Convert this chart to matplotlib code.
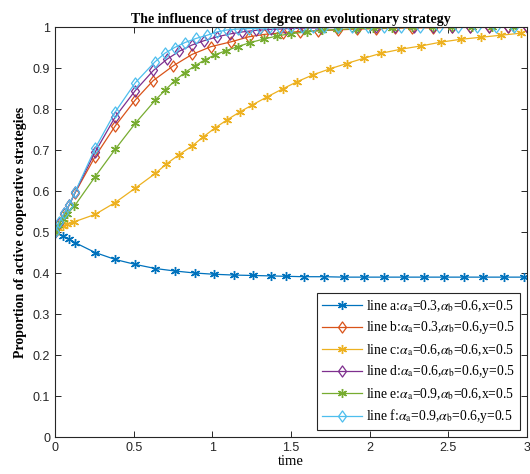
import matplotlib
matplotlib.use("Agg")
import matplotlib.pyplot as plt
from matplotlib.path import Path
from matplotlib.ticker import FuncFormatter

# values (ode solver output, uneven time steps)
t_a = [0, 0.049, 0.091, 0.128, 0.255, 0.383, 0.51, 0.638, 0.76, 0.89, 1.01, 1.14, 1.26, 1.37,
       1.47, 1.584, 1.707, 1.835, 1.962, 2.09, 2.217, 2.342, 2.47, 2.597, 2.723, 2.851, 2.978]
y_a = [0.5, 0.490, 0.482, 0.474, 0.450, 0.433, 0.421, 0.411, 0.405, 0.400, 0.397, 0.395, 0.394, 0.393,
       0.392, 0.391, 0.391, 0.390, 0.390, 0.390, 0.390, 0.390, 0.390, 0.390, 0.390, 0.390, 0.390]

t_b = [0, 0.028, 0.06, 0.09, 0.128, 0.255, 0.383, 0.51, 0.623, 0.75, 0.87, 0.99, 1.12, 1.23, 1.33,
       1.45, 1.56, 1.67, 1.80, 1.92, 2.04, 2.16, 2.27, 2.40, 2.52, 2.64, 2.76, 2.88, 3.0]
y_b = [0.5, 0.522, 0.545, 0.565, 0.596, 0.684, 0.759, 0.822, 0.869, 0.905, 0.933, 0.952, 0.964, 0.976, 0.982,
       0.986, 0.989, 0.991, 0.993, 0.995, 0.996, 0.997, 0.998, 0.998, 0.999, 0.999, 0.999, 1.0, 1.0]

t_c = [0, 0.021, 0.049, 0.075, 0.123, 0.255, 0.383, 0.51, 0.638, 0.708, 0.786, 0.872, 0.942, 1.014, 1.095,
       1.175, 1.254, 1.35, 1.446, 1.541, 1.637, 1.747, 1.854, 1.964, 2.073, 2.2, 2.328, 2.451, 2.578,
       2.706, 2.834, 2.961]
y_c = [0.5, 0.509, 0.515, 0.519, 0.525, 0.543, 0.572, 0.607, 0.643, 0.666, 0.688, 0.710, 0.732, 0.753, 0.774,
       0.793, 0.810, 0.830, 0.849, 0.867, 0.883, 0.898, 0.911, 0.924, 0.936, 0.946, 0.954, 0.963, 0.970,
       0.975, 0.980, 0.985]

t_d = [0, 0.028, 0.06, 0.09, 0.128, 0.255, 0.383, 0.51, 0.625, 0.71, 0.79, 0.87, 0.95, 1.03, 1.11, 1.19,
       1.28, 1.37, 1.47, 1.58, 1.69, 1.80, 1.92, 2.04, 2.16, 2.28, 2.40, 2.52, 2.64, 2.76, 2.88, 3.0]
y_d = [0.5, 0.523, 0.546, 0.566, 0.597, 0.695, 0.781, 0.845, 0.894, 0.921, 0.941, 0.956, 0.967, 0.976, 0.983, 0.988,
       0.992, 0.994, 0.996, 0.997, 0.998, 0.999, 0.999, 0.999, 1.0, 1.0, 1.0, 1.0, 1.0, 1.0, 1.0, 1.0]

t_e = [0, 0.021, 0.049, 0.075, 0.123, 0.255, 0.383, 0.51, 0.638, 0.70, 0.761, 0.825, 0.888, 0.952, 1.016, 1.084,
       1.16, 1.24, 1.33, 1.41, 1.50, 1.60, 1.70, 1.79, 1.91, 2.02, 2.14, 2.27, 2.40, 2.52, 2.65, 2.78, 2.91]
y_e = [0.5, 0.517, 0.531, 0.543, 0.563, 0.635, 0.702, 0.765, 0.822, 0.846, 0.869, 0.889, 0.905, 0.920, 0.932, 0.942,
       0.952, 0.962, 0.971, 0.978, 0.984, 0.988, 0.992, 0.994, 0.996, 0.997, 0.998, 0.999, 0.999, 1.0, 1.0, 1.0, 1.0]

t_f = [0, 0.028, 0.06, 0.09, 0.128, 0.255, 0.383, 0.51, 0.635, 0.698, 0.76, 0.825, 0.895, 0.967, 1.03, 1.095,
       1.16, 1.23, 1.30, 1.36, 1.43, 1.50, 1.57, 1.64, 1.71, 1.80, 1.89, 1.99, 2.09, 2.2, 2.32, 2.44, 2.56,
       2.68, 2.80, 2.92]
y_f = [0.5, 0.525, 0.547, 0.566, 0.598, 0.704, 0.793, 0.864, 0.915, 0.936, 0.950, 0.962, 0.972, 0.980, 0.988, 0.993,
       0.995, 0.996, 0.997, 0.998, 0.998, 0.999, 0.999, 0.999, 1.0, 1.0, 1.0, 1.0, 1.0, 1.0, 1.0, 1.0, 1.0,
       1.0, 1.0, 1.0]

labels = [
    r"line a:$\alpha_\mathrm{a}$=0.3,$\alpha_\mathrm{b}$=0.6,x=0.5",
    r"line b:$\alpha_\mathrm{a}$=0.3,$\alpha_\mathrm{b}$=0.6,y=0.5",
    r"line c:$\alpha_\mathrm{a}$=0.6,$\alpha_\mathrm{b}$=0.6,x=0.5",
    r"line d:$\alpha_\mathrm{a}$=0.6,$\alpha_\mathrm{b}$=0.6,y=0.5",
    r"line e:$\alpha_\mathrm{a}$=0.9,$\alpha_\mathrm{b}$=0.6,x=0.5",
    r"line f:$\alpha_\mathrm{a}$=0.9,$\alpha_\mathrm{b}$=0.6,y=0.5",
]

colors = ["#0072BD", "#D95319", "#EDB120", "#7E2F8E", "#77AC30", "#4DBEEE"]
markers = ["*", "D", "*", "D", "*", "D"]

# matlab diamond is a bit taller than wide
diamond = Path([(0, 1), (0.72, 0), (0, -1), (-0.72, 0), (0, 1)],
               [Path.MOVETO, Path.LINETO, Path.LINETO, Path.LINETO, Path.CLOSEPOLY])

plt.rcParams["mathtext.fontset"] = "stix"

fig = plt.figure(figsize=(5.3, 4.74), dpi=100)
ax = fig.add_axes([0.1038, 0.078, 0.8906, 0.865])

series = [(t_a, y_a), (t_b, y_b), (t_c, y_c), (t_d, y_d), (t_e, y_e), (t_f, y_f)]
for (t, y), lab, c, m in zip(series, labels, colors, markers):
    if m == "D":
        ax.plot(t, y, color=c, lw=0.9, marker=diamond, markersize=8, markerfacecolor="none",
                markeredgewidth=0.9, label=lab)
    else:
        # matlab style asterisk
        ax.plot(t, y, color=c, lw=0.9, marker=(6, 2, 0), markersize=6.5, markeredgewidth=1.0, label=lab)

ax.set_xlim(0, 3)
ax.set_ylim(0, 1)
ax.set_xticks([0, 0.5, 1, 1.5, 2, 2.5, 3])
ax.set_yticks([i / 10 for i in range(11)])
fmt = FuncFormatter(lambda v, p: "%g" % round(v, 2))
ax.xaxis.set_major_formatter(fmt)
ax.yaxis.set_major_formatter(fmt)
ax.tick_params(direction="in", top=True, right=True, labelsize=9, length=4, width=0.7,
               colors="#262626", labelcolor="#262626")
for lbl in ax.get_xticklabels() + ax.get_yticklabels():
    lbl.set_family("Liberation Sans")
for s in ax.spines.values():
    s.set_linewidth(0.8)
    s.set_color("#262626")

ax.set_xlabel("time", family="Liberation Serif", fontsize=10.5, labelpad=1)
ax.set_ylabel("Proportion of active cooperative strategies", family="Liberation Serif",
              fontsize=10, fontweight="bold", labelpad=4)
ax.set_title("The influence of trust degree on evolutionary strategy", family="Liberation Serif",
             fontsize=10, fontweight="bold", pad=3)

leg = ax.legend(loc="lower right", prop={"family": "Liberation Serif", "size": 9.8},
                fancybox=False, edgecolor="#262626", framealpha=1, borderaxespad=0.5,
                handlelength=3.0, handletextpad=0.3, labelspacing=0.42, borderpad=0.35)
leg.get_frame().set_linewidth(0.8)

fig.savefig("out.png", dpi=100)
